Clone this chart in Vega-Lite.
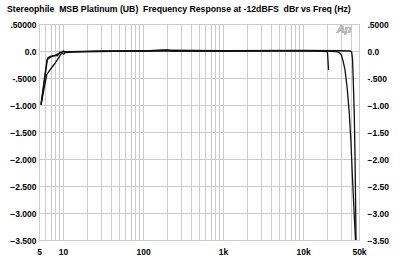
{
  "$schema": "https://vega.github.io/schema/vega-lite/v6.json",
  "width": 320,
  "height": 216,
  "autosize": "none",
  "padding": {"left": 39, "top": 24, "right": 41, "bottom": 24},
  "background": "white",
  "title": {
    "text": "Stereophile\u00a0 MSB Platinum (UB)\u00a0 Frequency Response at -12dBFS\u00a0 dBr vs Freq (Hz)",
    "anchor": "start",
    "frame": "group",
    "dx": -32,
    "offset": 6,
    "font": "Liberation Sans",
    "fontSize": 8.7,
    "fontWeight": "bold",
    "color": "#000"
  },
  "config": {
    "view": {"stroke": "#bbbbbb", "strokeWidth": 1},
    "axis": {
      "labelFont": "Liberation Sans",
      "labelFontWeight": "bold",
      "labelFontSize": 8.5,
      "labelColor": "#000",
      "ticks": false,
      "domain": false,
      "title": null,
      "gridColor": "#cccccc",
      "gridWidth": 1,
      "gridOpacity": 1
    }
  },
  "data": {
    "values": [
      {"s": "a", "f": 5.3, "db": -1.0},
      {"s": "a", "f": 6.4, "db": -0.13},
      {"s": "a", "f": 6.9, "db": -0.1},
      {"s": "a", "f": 7.9, "db": -0.08},
      {"s": "a", "f": 8.5, "db": -0.09},
      {"s": "a", "f": 9.15, "db": -0.02},
      {"s": "a", "f": 9.6, "db": -0.04},
      {"s": "a", "f": 10.1, "db": 0.0},
      {"s": "a", "f": 10.8, "db": -0.03},
      {"s": "a", "f": 13, "db": -0.02},
      {"s": "a", "f": 20, "db": -0.01},
      {"s": "a", "f": 43, "db": -0.005},
      {"s": "a", "f": 100, "db": 0.0},
      {"s": "a", "f": 199, "db": 0.02},
      {"s": "a", "f": 230, "db": 0.0},
      {"s": "a", "f": 1000, "db": 0.0},
      {"s": "a", "f": 5000, "db": 0.005},
      {"s": "a", "f": 15000, "db": 0.0},
      {"s": "a", "f": 19800, "db": -0.01},
      {"s": "a", "f": 20200, "db": -0.03},
      {"s": "a", "f": 20800, "db": -0.35},
      {"s": "b", "f": 5.3, "db": -1.0},
      {"s": "b", "f": 6.24, "db": -0.44},
      {"s": "b", "f": 6.86, "db": -0.35},
      {"s": "b", "f": 7.7, "db": -0.25},
      {"s": "b", "f": 8.7, "db": -0.135},
      {"s": "b", "f": 9.6, "db": -0.04},
      {"s": "b", "f": 10.2, "db": -0.06},
      {"s": "b", "f": 10.6, "db": -0.02},
      {"s": "b", "f": 12.2, "db": -0.01},
      {"s": "b", "f": 20, "db": -0.01},
      {"s": "b", "f": 100, "db": 0.0},
      {"s": "b", "f": 1000, "db": 0.0},
      {"s": "b", "f": 10000, "db": 0.005},
      {"s": "b", "f": 20000, "db": 0.0},
      {"s": "b", "f": 25800, "db": -0.01},
      {"s": "b", "f": 27600, "db": -0.02},
      {"s": "b", "f": 28900, "db": -0.04},
      {"s": "b", "f": 30200, "db": -0.08},
      {"s": "b", "f": 31800, "db": -0.2},
      {"s": "b", "f": 33400, "db": -0.35},
      {"s": "b", "f": 35600, "db": -0.69},
      {"s": "b", "f": 37800, "db": -1.15},
      {"s": "b", "f": 39700, "db": -1.7},
      {"s": "b", "f": 41300, "db": -2.3},
      {"s": "b", "f": 43900, "db": -3.13},
      {"s": "b", "f": 45200, "db": -3.5},
      {"s": "c", "f": 5.3, "db": -0.98},
      {"s": "c", "f": 6.3, "db": -0.16},
      {"s": "c", "f": 7.0, "db": -0.11},
      {"s": "c", "f": 8.0, "db": -0.08},
      {"s": "c", "f": 9.2, "db": -0.03},
      {"s": "c", "f": 10, "db": -0.01},
      {"s": "c", "f": 12, "db": -0.01},
      {"s": "c", "f": 30, "db": 0.0},
      {"s": "c", "f": 100, "db": 0.0},
      {"s": "c", "f": 199, "db": 0.015},
      {"s": "c", "f": 1000, "db": 0.005},
      {"s": "c", "f": 10000, "db": 0.01},
      {"s": "c", "f": 30000, "db": 0.005},
      {"s": "c", "f": 38600, "db": 0.0},
      {"s": "c", "f": 40500, "db": -0.02},
      {"s": "c", "f": 41500, "db": -0.15},
      {"s": "c", "f": 42500, "db": -0.6},
      {"s": "c", "f": 43700, "db": -1.19},
      {"s": "c", "f": 44600, "db": -2.0},
      {"s": "c", "f": 45500, "db": -3.0},
      {"s": "c", "f": 45900, "db": -3.5}
    ]
  },
  "layer": [
    {
      "mark": {"type": "line", "color": "#111111", "strokeWidth": 1.3, "clip": true},
      "encoding": {
        "x": {
          "field": "f",
          "type": "quantitative",
          "scale": {"type": "log", "domain": [5, 50000], "nice": false},
          "axis": {
            "values": [5, 6, 7, 8, 9, 10, 20, 30, 40, 50, 60, 70, 80, 90, 100, 200, 300, 400, 500, 600, 700, 800, 900, 1000, 2000, 3000, 4000, 5000, 6000, 7000, 8000, 9000, 10000, 20000, 30000, 40000, 50000],
            "labelExpr": "datum.value == 5 ? '5' : datum.value == 10 ? '10' : datum.value == 100 ? '100' : datum.value == 1000 ? '1k' : datum.value == 10000 ? '10k' : datum.value == 50000 ? '50k' : ''",
            "labelOverlap": false,
            "labelFlush": false,
            "labelPadding": 7,
            "grid": true
          }
        },
        "y": {
          "field": "db",
          "type": "quantitative",
          "scale": {"domain": [-3.5, 0.5], "nice": false, "zero": false},
          "axis": {
            "orient": "left",
            "values": [0.5, 0, -0.5, -1, -1.5, -2, -2.5, -3, -3.5],
            "labelExpr": "datum.value == 0.5 ? '.50000' : datum.value == 0 ? '0.0' : datum.value == -0.5 ? '-.5000' : format(datum.value, '.3f')",
            "labelPadding": 3,
            "grid": true
          }
        },
        "detail": {"field": "s"}
      }
    },
    {
      "mark": {"type": "text", "text": "Ap", "font": "Liberation Sans", "fontStyle": "italic", "fontSize": 11, "color": "#bbbbbb"},
      "encoding": {
        "x": {"datum": 32500, "type": "quantitative"},
        "y": {
          "datum": 0.39,
          "type": "quantitative",
          "axis": {
            "orient": "right",
            "values": [0.5, 0, -0.5, -1, -1.5, -2, -2.5, -3, -3.5],
            "labelExpr": "datum.value == 0.5 ? '.5000' : datum.value == 0 ? '0.0' : datum.value == -0.5 ? '-.500' : format(datum.value, '.2f')",
            "labelPadding": 8,
            "grid": false
          }
        }
      }
    }
  ],
  "resolve": {"axis": {"y": "independent"}}
}
